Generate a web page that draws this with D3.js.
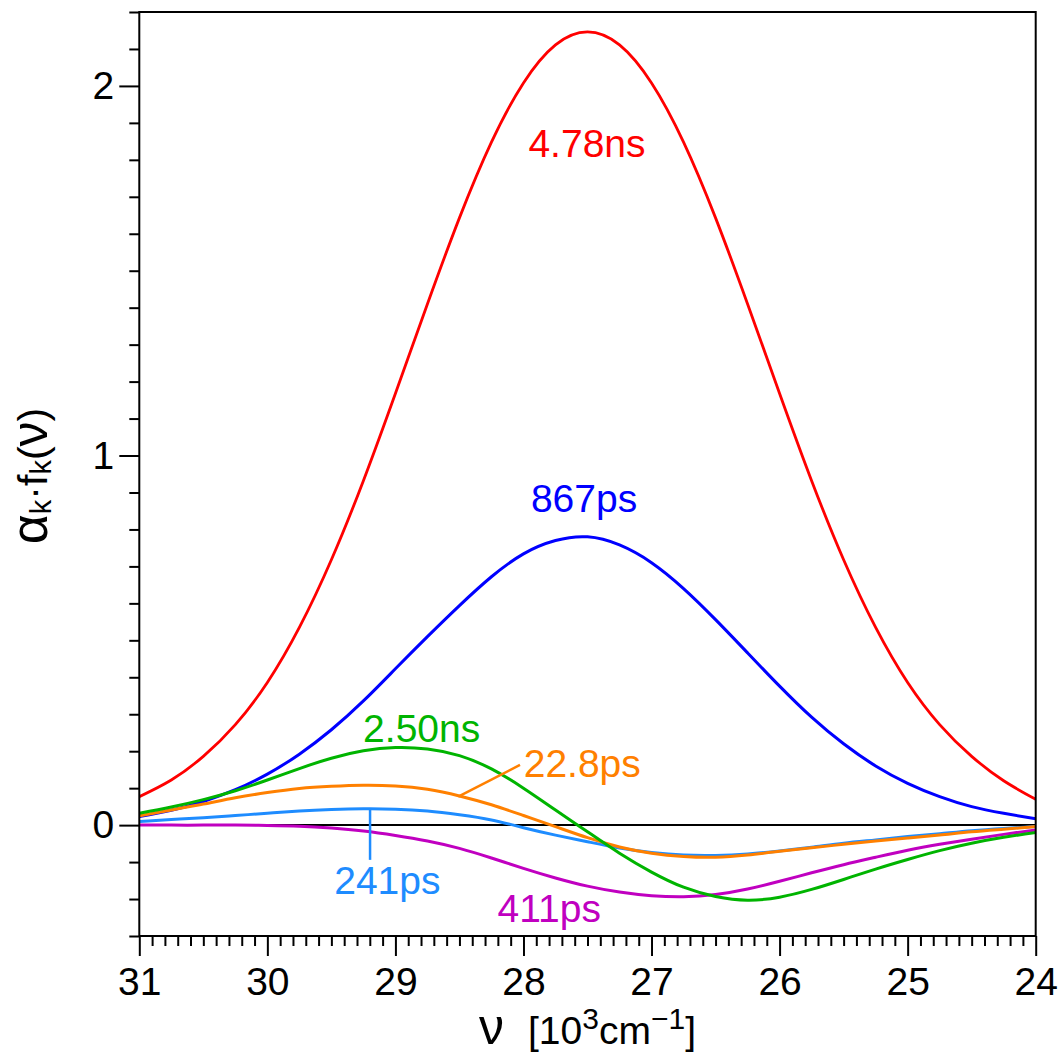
<!DOCTYPE html>
<html><head><meta charset="utf-8">
<script src="https://cdn.jsdelivr.net/npm/d3@7"></script>
<style>
body{margin:0;background:#fff}
text{font-family:"Liberation Sans",Arial,Helvetica,sans-serif;}
</style>
</head><body>
<svg id="chart" width="1063" height="1054"></svg>
<script>
// ---- data ----
const nu = [31,30.75,30.5,30.25,30,29.75,29.5,29.25,29,28.75,28.5,28.25,28,27.75,27.5,27.25,27,26.75,26.5,26.25,26,25.75,25.5,25.25,25,24.75,24.5,24.25,24];
const s478ns = [0.077,0.122,0.186,0.272,0.386,0.535,0.718,0.932,1.168,1.41,1.643,1.848,2.008,2.111,2.146,2.111,2.008,1.848,1.643,1.41,1.168,0.932,0.718,0.535,0.386,0.272,0.186,0.12,0.07];
const s867ps = [0.023,0.04,0.064,0.096,0.138,0.192,0.258,0.336,0.423,0.51,0.594,0.672,0.734,0.77,0.78,0.758,0.71,0.64,0.556,0.466,0.376,0.292,0.22,0.16,0.113,0.077,0.05,0.032,0.017];
const s250ns = [0.032,0.049,0.069,0.093,0.122,0.153,0.181,0.201,0.21,0.206,0.188,0.152,0.1,0.041,-0.018,-0.076,-0.127,-0.168,-0.193,-0.203,-0.195,-0.174,-0.147,-0.119,-0.093,-0.069,-0.049,-0.033,-0.02];
const s228ps = [0.025,0.041,0.057,0.074,0.088,0.099,0.105,0.108,0.106,0.097,0.079,0.055,0.026,-0.004,-0.034,-0.059,-0.076,-0.085,-0.087,-0.081,-0.071,-0.061,-0.052,-0.043,-0.035,-0.027,-0.018,-0.011,-0.004];
const s241ps = [0.01,0.015,0.02,0.026,0.032,0.038,0.042,0.044,0.043,0.038,0.028,0.014,-0.007,-0.027,-0.045,-0.062,-0.074,-0.081,-0.082,-0.078,-0.07,-0.06,-0.049,-0.04,-0.031,-0.023,-0.015,-0.009,-0.004];
const s411ps = [0.0,0.0,0.0,0.0,-0.001,-0.003,-0.008,-0.016,-0.028,-0.043,-0.063,-0.089,-0.117,-0.143,-0.165,-0.181,-0.191,-0.194,-0.188,-0.173,-0.152,-0.129,-0.107,-0.087,-0.068,-0.052,-0.038,-0.025,-0.013];
const xMajorTicks = [31,30,29,28,27,26,25,24];
const yMajorTicks = [0,1,2];

const seriesNames = ["4.78ns","867ps","241ps","22.8ps","411ps","2.50ns"];
const seriesValues = [s478ns,s867ps,s241ps,s228ps,s411ps,s250ns];
const seriesColors = ["#ff0000","#0000ff","#1e8cff","#ff8000","#c000c0","#00b400"];
const seriesWidths = [2.8,3,3,3,3,3];

// label anchors in data coordinates [nu, value]
const labelPos = {"4.78ns":[27.504,1.807],"867ps":[27.527,0.846],"2.50ns":[28.795,0.226],"22.8ps":[27.541,0.129],"241ps":[29.063,-0.186],"411ps":[27.799,-0.261]};
const leaders = [{name:"22.8ps",from:[28.509,0.077],to:[28.027,0.163]},{name:"241ps",from:[29.198,0.041],to:[29.198,-0.094]}];

// ---- layout ----
const svg = d3.select("#chart");
const L = 139.3, R = 1035.7, T = 12, B = 936;
const x = d3.scaleLinear().domain([31,24]).range([L,R]);
const y = d3.scaleLinear().domain([-0.3,2.2]).range([B,T]);
const fs = 39;

const line = d3.line().x((d,i)=>x(nu[i])).y(d=>y(d)).curve(d3.curveNatural);
svg.append("clipPath").attr("id","pc").append("rect").attr("x",L).attr("y",T).attr("width",R-L).attr("height",B-T);

// zero line
svg.append("line").attr("x1",L).attr("x2",R).attr("y1",y(0)).attr("y2",y(0)).attr("stroke","#000").attr("stroke-width",2);

const g = svg.append("g").attr("clip-path","url(#pc)");
seriesValues.forEach((vals,k)=>{
  g.append("path").datum(vals).attr("d",line).attr("fill","none")
   .attr("stroke",seriesColors[k]).attr("stroke-width",seriesWidths[k]).attr("stroke-linejoin","round");
});

// leaders
leaders.forEach(l=>{
  const k = seriesNames.indexOf(l.name);
  svg.append("line").attr("x1",x(l.from[0])).attr("y1",y(l.from[1])).attr("x2",x(l.to[0])).attr("y2",y(l.to[1]))
    .attr("stroke",seriesColors[k]).attr("stroke-width",2.5);
});

// labels
seriesNames.forEach((n,k)=>{
  const p = labelPos[n];
  svg.append("text").attr("x",x(p[0])).attr("y",y(p[1])).attr("text-anchor","middle")
    .attr("font-size",fs).attr("fill",seriesColors[k]).text(n);
});

// frame
svg.append("rect").attr("x",L).attr("y",T).attr("width",R-L).attr("height",B-T).attr("fill","none").attr("stroke","#000").attr("stroke-width",2);

// x axis
const xMinor = d3.range(240,311).map(v=>v/10).filter(v=>!xMajorTicks.includes(v));
const gxm = svg.append("g").attr("transform",`translate(0,${B})`)
  .call(d3.axisBottom(x).tickValues(xMinor).tickSize(10).tickSizeOuter(0).tickFormat(""));
const gx = svg.append("g").attr("transform",`translate(0,${B})`)
  .call(d3.axisBottom(x).tickValues(xMajorTicks).tickSize(20).tickSizeOuter(0).tickPadding(11).tickFormat(d3.format("d")));
// y axis
const yMinor = d3.range(-3,23).map(v=>v/10).filter(v=>!yMajorTicks.includes(Math.round(v*10)/10));
const gym = svg.append("g").attr("transform",`translate(${L},0)`)
  .call(d3.axisLeft(y).tickValues(yMinor).tickSize(10).tickSizeOuter(0).tickFormat(""));
const gy = svg.append("g").attr("transform",`translate(${L},0)`)
  .call(d3.axisLeft(y).tickValues(yMajorTicks).tickSize(20).tickSizeOuter(0).tickPadding(5).tickFormat(d3.format("d")));
[gxm,gx,gym,gy].forEach(a=>{
  a.select(".domain").remove();
  a.selectAll(".tick line").attr("stroke","#000").attr("stroke-width",2);
  a.selectAll(".tick text").attr("font-size",fs).attr("fill","#000").attr("font-family",'"Liberation Sans",Arial,sans-serif');
});

// x title
const xt = svg.append("text").attr("x",(L+R)/2).attr("y",1044).attr("text-anchor","middle").attr("font-size",fs).attr("fill","#000");
xt.append("tspan").attr("font-size",50).text("ν");
xt.append("tspan").attr("dx",24).text("[10");
xt.append("tspan").attr("font-size",30).attr("dy",-15).text("3");
xt.append("tspan").attr("dy",15).text("cm");
xt.append("tspan").attr("font-size",30).attr("dy",-15).text("−1");
xt.append("tspan").attr("dy",15).text("]");

// y title
const yt = svg.append("text").attr("transform",`translate(47,476) rotate(-90)`).attr("text-anchor","middle").attr("font-size",41).attr("fill","#000");
yt.append("tspan").attr("font-size",52).text("α");
yt.append("tspan").attr("font-size",29).attr("dy",4).text("k");
yt.append("tspan").attr("dy",-4).text("·f");
yt.append("tspan").attr("font-size",29).attr("dy",4).text("k");
yt.append("tspan").attr("dy",-4).text("(");
yt.append("tspan").attr("font-size",50).text("ν");
yt.append("tspan").text(")");
</script>
</body></html>
